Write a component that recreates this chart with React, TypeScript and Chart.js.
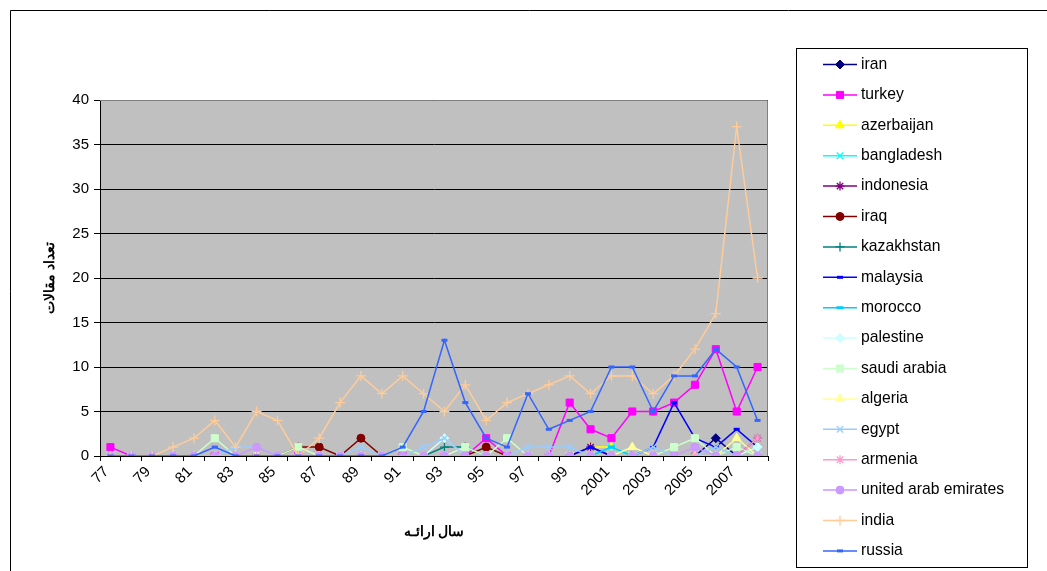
import React, { useEffect, useRef } from 'react';
import { Chart, registerables } from 'chart.js';
import { drawPoint } from 'chart.js/helpers';

Chart.register(...registerables);

const years = ['77', '78', '79', '80', '81', '82', '83', '84', '85', '86', '87', '88', '89', '90', '91', '92', '93', '94', '95', '96', '97', '98', '99', '2000', '2001', '2002', '2003', '2004', '2005', '2006', '2007', '2008'];

const yTicks = [0, 5, 10, 15, 20, 25, 30, 35, 40];

const iran =       [0, 0, 0, 0, 0, 0, 0, 0, 0, 0, 0, 0, 0, 0, 0, 0, 0, 0, 0, 0, 0, 0, 0, 0, 0, 0, 0, 0, 0, 2, 0, 0];
const turkey =     [1, 0, 0, 0, 0, 0, 0, 0, 0, 0, 0, 0, 0, 0, 0, 0, 0, 0, 2, 0, 0, 0, 6, 3, 2, 5, 5, 6, 8, 12, 5, 10];
const azerbaijan = [0, 0, 0, 0, 0, 0, 0, 0, 0, 0, 0, 0, 0, 0, 0, 0, 0, 0, 0, 0, 0, 0, 0, 1, 1, 0, 0, 0, 0, 0, 0, 0];
const bangladesh = [0, 0, 0, 0, 0, 0, 0, 0, 0, 0, 0, 0, 0, 0, 0, 0, 0, 0, 0, 0, 0, 0, 0, 0, 1, 0, 0, 0, 0, 0, 0, 0];
const indonesia =  [0, 0, 0, 0, 0, 0, 0, 0, 0, 0, 0, 0, 0, 0, 0, 0, 0, 0, 0, 0, 0, 0, 0, 1, 0, 0, 0, 0, 0, 0, 0, 2];
const iraq =       [0, 0, 0, 0, 0, 0, 0, 0, 0, 1, 1, 0, 2, 0, 0, 0, 0, 0, 1, 0, 0, 0, 0, 0, 0, 0, 0, 0, 0, 0, 0, 0];
const kazakhstan = [0, 0, 0, 0, 0, 0, 0, 0, 0, 0, 0, 0, 0, 0, 0, 0, 1, 1, 0, 0, 0, 0, 0, 0, 0, 0, 0, 0, 0, 0, 0, 0];
const malaysia =   [0, 0, 0, 0, 0, 0, 0, 0, 0, 0, 0, 0, 0, 0, 0, 0, 0, 0, 0, 0, 0, 0, 0, 1, 0, 0, 1, 6, 2, 1, 3, 1];
const morocco =    [0, 0, 0, 0, 0, 0, 0, 0, 0, 0, 0, 0, 0, 0, 0, 0, 0, 0, 0, 0, 0, 0, 0, 0, 1, 0, 0, 0, 0, 0, 0, 0];
const palestine =  [0, 0, 0, 0, 0, 0, 0, 0, 0, 0, 0, 0, 0, 0, 0, 0, 2, 0, 0, 0, 0, 0, 0, 0, 0, 0, 0, 0, 0, 0, 0, 1];
const saudiArabia = [0, 0, 0, 0, 0, 2, 0, 0, 0, 1, 0, 0, 0, 0, 1, 0, 0, 1, 0, 2, 0, 0, 0, 0, 0, 0, 0, 1, 2, 0, 1, 0];
const algeria =    [0, 0, 0, 0, 0, 0, 0, 0, 0, 0, 0, 0, 0, 0, 0, 0, 0, 0, 0, 0, 0, 0, 0, 0, 0, 1, 0, 0, 0, 0, 2, 0];
const egypt =      [0, 0, 0, 0, 0, 0, 1, 1, 0, 0, 0, 0, 1, 0, 0, 1, 2, 0, 0, 0, 1, 1, 1, 0, 0, 0, 1, 0, 0, 1, 0, 0];
const armenia =    [0, 0, 0, 0, 0, 0, 0, 0, 0, 0, 0, 0, 0, 0, 0, 0, 0, 0, 0, 0, 0, 0, 0, 0, 0, 0, 0, 0, 0, 0, 0, 2];
const uae =        [0, 0, 0, 0, 0, 0, 0, 1, 0, 0, 0, 0, 0, 0, 0, 0, 0, 0, 0, 0, 0, 0, 0, 0, 0, 0, 0, 0, 1, 0, 0, 0];
const india =      [0, 0, 0, 1, 2, 4, 1, 5, 4, 0, 2, 6, 9, 7, 9, 7, 5, 8, 4, 6, 7, 8, 9, 7, 9, 9, 7, 9, 12, 16, 37, 20];
const russia =     [0, 0, 0, 0, 0, 1, 0, 0, 0, 0, 0, 0, 0, 0, 1, 5, 13, 6, 2, 1, 7, 3, 4, 5, 10, 10, 5, 9, 9, 12, 10, 4];

const seriesNames = ['iran', 'turkey', 'azerbaijan', 'bangladesh', 'indonesia', 'iraq', 'kazakhstan', 'malaysia', 'morocco', 'palestine', 'saudi arabia', 'algeria', 'egypt', 'armenia', 'united arab emirates', 'india', 'russia'];
const seriesData = [iran, turkey, azerbaijan, bangladesh, indonesia, iraq, kazakhstan, malaysia, morocco, palestine, saudiArabia, algeria, egypt, armenia, uae, india, russia];
const seriesColors = ['#000080', '#FF00FF', '#FFFF00', '#00FFFF', '#800080', '#800000', '#008080', '#0000FF', '#00CCFF', '#CCFFFF', '#CCFFCC', '#FFFF99', '#99CCFF', '#FF99CC', '#CC99FF', '#FFCC99', '#3366FF'];
const seriesStyles = ['rectRot', 'rect', 'triangle', 'crossRot', 'star', 'circle', 'cross', 'line', 'line', 'rectRot', 'rect', 'triangle', 'crossRot', 'star', 'circle', 'cross', 'line'];
const seriesRadius = [4.5, 5, 5, 4.5, 4.5, 4, 4.5, 3, 3.5, 4.5, 5, 5, 4.5, 4.5, 4, 5, 3];

const yTitle = 'تعداد مقالات';
const xTitle = 'سال ارائـه';
const FONT = '"Liberation Sans", Arial, sans-serif';

function markerBorder(style: string) {
  if (style === 'line') return 3;
  if (style === 'cross' || style === 'crossRot' || style === 'star') return 1.3;
  return 1;
}

export default function App() {
  const ref = useRef<HTMLCanvasElement>(null);

  useEffect(() => {
    const n = seriesNames.length;
    const datasets = seriesNames.map((name, i) => ({
      label: name,
      data: seriesData[i],
      borderColor: seriesColors[i],
      backgroundColor: seriesColors[i],
      borderWidth: 1.5,
      pointStyle: seriesStyles[i] as any,
      pointRadius: seriesRadius[i],
      pointBorderWidth: markerBorder(seriesStyles[i]),
      pointBackgroundColor: seriesColors[i],
      pointBorderColor: seriesColors[i],
      tension: 0,
      order: n - 1 - i,
    }));

    const bgPlugin = {
      id: 'bgPlugin',
      beforeDraw(chart: any) {
        const { ctx, chartArea } = chart;
        ctx.save();
        ctx.fillStyle = '#FFFFFF';
        ctx.fillRect(0, 0, chart.width, chart.height);
        ctx.strokeStyle = '#000000';
        ctx.lineWidth = 1;
        ctx.beginPath();
        ctx.moveTo(10.5, chart.height + 2);
        ctx.lineTo(10.5, 10.5);
        ctx.lineTo(chart.width + 2, 10.5);
        ctx.stroke();
        ctx.fillStyle = '#C0C0C0';
        ctx.fillRect(chartArea.left, chartArea.top, chartArea.right - chartArea.left, chartArea.bottom - chartArea.top);
        ctx.restore();
      },
      beforeDatasetsDraw(chart: any) {
        const { ctx, chartArea } = chart;
        ctx.save();
        ctx.strokeStyle = '#808080';
        ctx.lineWidth = 1;
        ctx.beginPath();
        ctx.moveTo(chartArea.left, chartArea.top + 0.5);
        ctx.lineTo(chartArea.right - 0.5, chartArea.top + 0.5);
        ctx.lineTo(chartArea.right - 0.5, chartArea.bottom);
        ctx.stroke();
        ctx.restore();
      },
    };

    const legendPlugin = {
      id: 'customLegend',
      afterDraw(chart: any) {
        const { ctx } = chart;
        ctx.save();
        ctx.strokeStyle = '#000000';
        ctx.lineWidth = 1;
        ctx.strokeRect(796.5, 48.5, 231, 519);
        seriesNames.forEach((name, i) => {
          const y = 64.5 + i * 30.4;
          ctx.strokeStyle = seriesColors[i];
          ctx.lineWidth = 1.5;
          ctx.beginPath();
          ctx.moveTo(823, y);
          ctx.lineTo(857, y);
          ctx.stroke();
          ctx.fillStyle = seriesColors[i];
          ctx.strokeStyle = seriesColors[i];
          ctx.lineWidth = markerBorder(seriesStyles[i]);
          drawPoint(ctx, { pointStyle: seriesStyles[i] as any, radius: seriesRadius[i], borderWidth: markerBorder(seriesStyles[i]), rotation: 0 } as any, 840, y);
          ctx.fillStyle = '#000000';
          ctx.font = '15.7px ' + FONT;
          ctx.textAlign = 'left';
          ctx.textBaseline = 'middle';
          ctx.fillText(name, 861, y);
        });
        ctx.restore();
      },
    };

    const chart = new Chart(ref.current as HTMLCanvasElement, {
      type: 'line',
      data: { labels: years, datasets },
      options: {
        animation: false,
        responsive: false,
        devicePixelRatio: 1,
        layout: { padding: { left: 38, right: 279, top: 100, bottom: 26 } },
        plugins: {
          legend: { display: false },
          tooltip: { enabled: false },
          title: { display: false },
        },
        elements: { line: { tension: 0 } },
        scales: {
          x: {
            type: 'category',
            offset: true,
            grid: { display: true, drawOnChartArea: false, offset: true, tickLength: 5, color: '#000000', tickColor: '#000000' },
            border: { display: true, color: '#000000', width: 1 },
            ticks: {
              autoSkip: false,
              maxRotation: 45,
              minRotation: 45,
              padding: 2,
              labelOffset: -4,
              color: '#000000',
              font: { family: FONT, size: 15 },
              callback: (_v: any, i: number) => (i % 2 === 0 ? years[i] : ''),
            },
            title: { display: true, text: xTitle, color: '#000000', font: { family: FONT, size: 14, weight: 'bold' }, padding: { top: 4, bottom: 4 } },
            afterFit: (s: any) => { s.height = 89; },
          },
          y: {
            min: 0,
            max: 40,
            afterBuildTicks: (s: any) => { s.ticks = yTicks.map((v) => ({ value: v })); },
            grid: { color: '#000000', lineWidth: 1, tickLength: 6, tickColor: '#000000' },
            border: { display: true, color: '#000000', width: 1 },
            ticks: { color: '#000000', padding: 5, font: { family: FONT, size: 15 } },
            title: { display: true, text: yTitle, color: '#000000', font: { family: FONT, size: 14, weight: 'bold' }, padding: { top: 4, bottom: 4 } },
            afterFit: (s: any) => { s.width = 62; },
          },
        },
      },
      plugins: [bgPlugin, legendPlugin],
    } as any);

    return () => chart.destroy();
  }, []);

  return (
    <div style={{ position: 'absolute', left: 0, top: 0, width: 1047, height: 571, background: '#fff' }}>
      <canvas ref={ref} width={1047} height={571} style={{ display: 'block' }} />
    </div>
  );
}
